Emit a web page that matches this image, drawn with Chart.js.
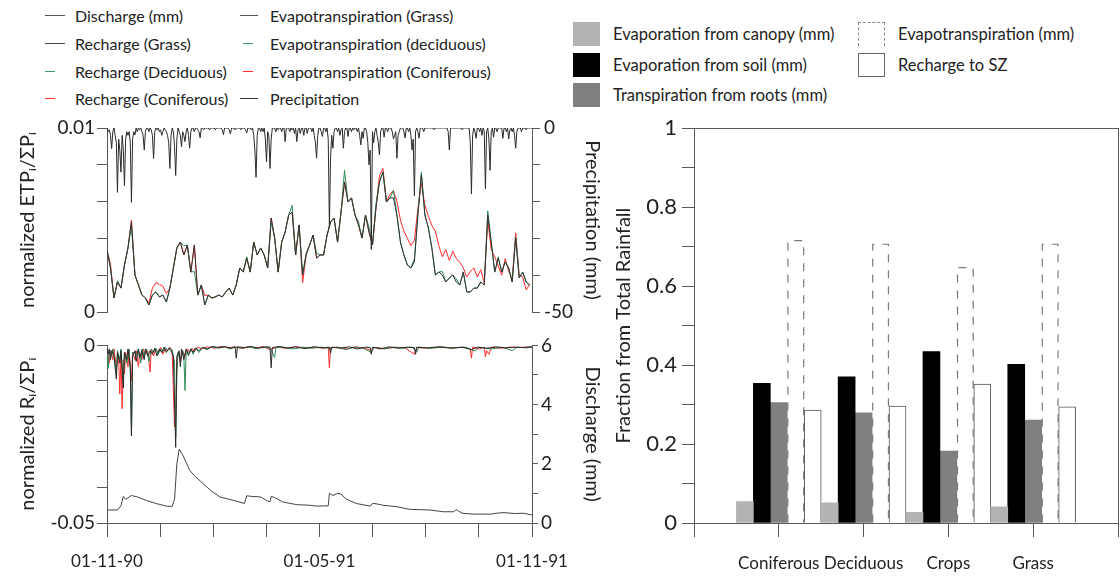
<!DOCTYPE html>
<html><head><meta charset="utf-8">
<script src="https://cdn.jsdelivr.net/npm/chart.js@4.4.1/dist/chart.umd.min.js"></script>
<style>
html,body{margin:0;padding:0;background:#fff;width:1120px;height:578px;overflow:hidden;font-family:Lato,"Noto Sans",sans-serif;color:#222;}
canvas{position:absolute;}
.lg{position:absolute;height:22px;display:flex;align-items:center;white-space:nowrap;}
.ln{display:inline-block;height:1px;}
.bx{position:absolute;width:27px;height:24px;box-sizing:border-box;}
</style></head><body>

<!-- left legend -->
<div class="lg" style="left:45px;top:4px;font-size:16px"><span class="ln" style="width:20px;background:#555;margin-right:10px"></span>Discharge (mm)</div>
<div class="lg" style="left:45px;top:32px;font-size:16px"><span class="ln" style="width:20px;background:#444;margin-right:10px"></span>Recharge (Grass)</div>
<div class="lg" style="left:45px;top:60px;font-size:16px"><span class="ln" style="width:10px;background:#3a9a6a;margin-right:20px"></span>Recharge (Deciduous)</div>
<div class="lg" style="left:45px;top:87px;font-size:16px"><span class="ln" style="width:10px;background:#ff3030;margin-right:20px"></span>Recharge (Coniferous)</div>
<div class="lg" style="left:240px;top:4px;font-size:16px"><span class="ln" style="width:18px;background:#555;margin-right:12px"></span>Evapotranspiration (Grass)</div>
<div class="lg" style="left:243px;top:32px;font-size:16px"><span class="ln" style="width:10px;background:#3a9a6a;margin-right:17px"></span>Evapotranspiration (deciduous)</div>
<div class="lg" style="left:243px;top:60px;font-size:16px"><span class="ln" style="width:10px;background:#ff3030;margin-right:17px"></span>Evapotranspiration (Coniferous)</div>
<div class="lg" style="left:240px;top:87px;font-size:16px"><span class="ln" style="width:18px;background:#333;margin-right:12px"></span>Precipitation</div>

<!-- right legend -->
<div class="bx" style="left:573px;top:22px;background:#b3b3b3"></div>
<div class="lg" style="left:613px;top:23px;font-size:16.5px">Evaporation from canopy (mm)</div>
<div class="bx" style="left:573px;top:53px;background:#000"></div>
<div class="lg" style="left:613px;top:54px;font-size:16.5px">Evaporation from soil (mm)</div>
<div class="bx" style="left:573px;top:83px;background:#808080"></div>
<div class="lg" style="left:613px;top:84px;font-size:16.5px">Transpiration from roots (mm)</div>
<div class="bx" style="left:858px;top:22px;border:1px dashed #888;border-bottom:none"></div>
<div class="lg" style="left:898px;top:23px;font-size:16.5px">Evapotranspiration (mm)</div>
<div class="bx" style="left:858px;top:53px;border:1px solid #666;background:#fff"></div>
<div class="lg" style="left:898px;top:54px;font-size:16.5px">Recharge to SZ</div>

<canvas id="cTop" width="610" height="230" style="left:0;top:100px"></canvas>
<canvas id="cBot" width="610" height="253" style="left:0;top:331px"></canvas>
<canvas id="cBar" width="522" height="468" style="left:612px;top:110px"></canvas>

<script>
// ---------------- DATA ----------------
const dateLabels = ['01-11-90', '01-05-91', '01-11-91'];
const etStep = 3; // days between ET samples

// daily precipitation (mm, plotted downward), days 0..365
const precipitation = [
0,-1,-0.5,-2,-5.6,-1,0,-2,-4,-17.5,
-3,-6,-12,-2,-6,-15.7,-3,-1,-2,-1,
-4,-20.2,-3,-1,-1.9,0,-1,0,-0.5,0,
-1,-2,-6,-1,0,0,-1,0,-0.5,-2,
-8.3,-1,0,-0.5,0,-1,-0.5,-2,-1,0,
-0.5,-1,-2,-4,-11,-2,0,-1,-5,-12.9,
-3,0,-1,-2,-5.1,-1,-2,-3.7,-1,0,
-2,-5.5,-1,0,0,-1,0,0,-0.5,-1,
-2.7,0,0,-0.5,0,0,0,0,-0.5,0,
0,0,0,-0.5,0,0,0,0,0,-0.5,
-1.8,0,0,0,0,-0.5,-1.6,0,0,0,
-0.5,0,0,0,0,-0.5,0,0,0,-0.5,
-1.3,0,0,0,-0.5,0,-2,-6,-13.4,-2,
0,0,-1,0,-1,0,-3,-9.2,-1,-2,
-11,-3,0,0,0,-1,0,-0.5,0,0,
-1,0,0,-3.7,0,0,0,-1,0,-0.5,
0,-1.5,0,-3.7,-0.5,0,-1.5,0,0,-2,
0,0,-1.5,0,0,0,-1,0,-2,-4,
-8.2,-2,0,0,-1,-2.3,0,0,-1,0,
-3,-27,-8,-2,-5.5,-1,0,0,-1,0,
-2,-0.5,0,-5.5,-1,0,0,-2.3,0,0,
-1,0,-0.5,0,0,-1,0,-2,-4.6,-1,
-2.8,0,0,-1,-4,-10,-6,-33,-1,-4,
-1,0,-2,-4,-7.3,-1,0,0,-2.5,0,
0,-1,0,0,0,-1,-3,-2,-1,-8.2,
-2,-1,0,0,0,-1,-2.7,0,0,-1,
0,-2,-6,-3,-18.4,-1,0,-1,-2.8,0,
0,0,-1,0,0,0,0,0,0,0,
0,-0.5,0,0,0,0,0,0,0,0,
0,0,0,-1,-6,0,0,0,0,0,
0,0,0,0,0,-0.5,0,0,0,0,
0,0,-4,-17.9,-2,0,-1,-2.8,0,0,
-1,0,-2,0,-1,-16.5,-1,0,-3,-11.5,
-1,0,-2.5,0,0,-1,0,0,0,0,
-2.8,0,0,-1,0,-3,-0.5,0,-1,0,
-2,-5.5,-1,0,0,0,-1,0,0,0,
-0.5,0,0,0,0,0
];

// normalized evapotranspiration, one value every 3 days
const etGrass = [
.00337,.00239,.00076,.00163,.0013,.00255,.00348,.00489,.00201,.00147,
.00092,.00076,.00038,.00092,.00109,.00082,.00092,.00054,.0013,.00239,
.00348,.0038,.0031,.00364,.00217,.00364,.00092,.00147,.00038,.00092,
.00076,.00082,.00092,.00082,.00109,.0013,.00092,.00147,.00239,.00217,
.00293,.00217,.0038,.0031,.00348,.0031,.00239,.00511,.00402,.00217,
.0038,.00435,.00527,.00543,.0031,.00473,.00201,.0031,.00364,.00418,
.00293,.0031,.0031,.00418,.00489,.00511,.0038,
.00543,.00707,.00598,.0062,.00527,.00473,.00402,.00527,.00435,.00364,
.00565,.00707,.00761,.00598,.0062,.0062,.00527,.0038,.0031,.00255,
.00239,.00272,.00527,.00745,.00527,.00457,.00348,.00201,.00217,.00201,
.00163,.00185,.00201,.00163,.00147,.00217,.00109,.00109,.0013,.0013,
.00163,.00147,.00527,.0038,.00217,.00293,.00217,.00272,.00239,.00163,
.00402,.00185,.00217,.00163,.00147
];
const etDeciduous = [
.00337,.00239,.00076,.0017,.0013,.00255,.00348,.0047,.00201,.00147,
.00092,.00076,.00038,.00092,.00109,.00082,.00092,.00054,.0013,.00239,
.00348,.0038,.0036,.00364,.00217,.0022,.00092,.00147,.00038,.00092,
.00076,.00082,.00092,.00082,.00109,.0013,.00092,.00147,.00239,.00217,
.003,.00217,.0038,.0031,.00348,.0031,.00239,.0049,.00402,.00217,
.0038,.00435,.00527,.0058,.0031,.00473,.00201,.0032,.00364,.00418,
.0032,.0031,.0031,.00418,.00489,.00511,.0038,
.00543,.0077,.00598,.0062,.00527,.0049,.00402,.00527,.0046,.00364,
.0059,.00707,.00761,.00598,.0062,.0066,.00527,.0038,.0031,.00255,
.00239,.0029,.00527,.0076,.00527,.00457,.00348,.00201,.00217,.0022,
.00163,.00185,.00201,.0018,.00147,.00217,.00109,.00109,.0013,.0013,
.00163,.00147,.0055,.0038,.00217,.003,.00217,.00272,.00239,.00163,
.0041,.00185,.00217,.00163,.00147
];
const etConiferous = [
.00337,.0026,.00076,.00163,.0013,.00255,.00348,.005,.00201,.00147,
.00092,.00076,.0005,.0013,.0016,.0015,.0014,.001,.0013,.00239,
.00348,.0038,.0031,.00364,.00217,.00364,.00092,.00147,.0009,.00092,
.00076,.00082,.00092,.00082,.00109,.0013,.00092,.00147,.00239,.00217,
.00293,.00217,.0038,.0031,.00348,.0031,.00239,.00511,.00402,.00217,
.0038,.00435,.00527,.00543,.0031,.00473,.0016,.0031,.00364,.00418,
.00293,.0031,.0031,.00418,.00489,.00511,.0038,
.00543,.00707,.00598,.0062,.00527,.00473,.00402,.00527,.00435,.00364,
.00565,.0074,.0078,.00598,.0064,.0066,.006,.005,.0044,.004,
.0036,.0039,.0056,.007,.0058,.0052,.0047,.0044,.0036,.003,
.0034,.0028,.0033,.0029,.0027,.0024,.0019,.0022,.0024,.0019,
.0023,.0016,.005,.0034,.003,.0025,.002,.0029,.0022,.0018,
.0043,.002,.0019,.0012,.0015
];

// normalized recharge [day, value]
const rechargeGrass = [[0,-.0008],[1,-.0025],[2,-.001],[3,-.004],[4,-.0015],[6,-.003],[8,-.0095],[9,-.002],[11,-.005],[12,-.0015],[14,-.012],[15,-.002],[17,-.004],[18,-.001],[20,-.006],[21,-.0255],[22,-.003],[24,-.0015],[25,-.0045],[27,-.001],[28,-.0035],[30,-.0015],[32,-.004],[33,-.001],[35,-.003],[37,-.0015],[39,-.0025],[41,-.0008],[43,-.003],[45,-.001],[47,-.002],[49,-.0005],[51,-.002],[53,-.0008],[55,-.0015],[57,-.003],[59,-.0287],[60,-.003],[62,-.0015],[63,-.006],[64,-.001],[66,-.004],[68,-.001],[70,-.0025],[72,-.001],[74,-.002],[76,-.0007],[79,-.0015],[82,-.0005],[86,-.001],[90,-.0003],[96,-.0006],[101,-.0003],[106,-.0008],[110,-.0004],[111,-.0036],[112,-.0004],[118,-.0006],[124,-.0003],[130,-.0008],[136,-.0004],[140,-.0005],[141,-.0063],[142,-.0006],[148,-.0003],[155,-.0008],[162,-.0004],[170,-.0009],[178,-.0004],[186,-.0007],[191,-.0005],[192,-.0022],[193,-.0005],[200,-.0008],[208,-.0004],[215,-.001],[222,-.0005],[226,-.0006],[227,-.0025],[228,-.0005],[235,-.001],[242,-.0004],[250,-.0008],[258,-.0005],[264,-.0006],[265,-.0025],[266,-.0005],[275,-.0007],[285,-.0004],[295,-.0008],[305,-.0005],[313,-.0012],[318,-.0005],[326,-.0008],[334,-.0004],[342,-.0007],[350,-.0005],[358,-.0006],[365,-.0004]];
const rechargeDeciduous = [[0,-.0015],[1,-.0065],[2,-.001],[4,-.003],[5,-.001],[7,-.005],[8,-.008],[9,-.0015],[11,-.004],[12,-.001],[14,-.01],[15,-.002],[17,-.005],[19,-.001],[20,-.007],[21,-.025],[22,-.002],[24,-.002],[25,-.003],[27,-.001],[29,-.005],[30,-.001],[32,-.003],[34,-.001],[36,-.0045],[38,-.001],[40,-.002],[42,-.0008],[44,-.0025],[46,-.001],[48,-.0018],[50,-.0006],[52,-.0015],[54,-.0008],[56,-.0012],[58,-.005],[59,-.026],[60,-.008],[61,-.002],[63,-.004],[65,-.0015],[66,-.003],[67,-.0127],[68,-.0015],[70,-.003],[72,-.001],[74,-.0025],[76,-.0008],[79,-.002],[82,-.0006],[86,-.0012],[90,-.0004],[96,-.0008],[101,-.0004],[106,-.001],[110,-.0005],[116,-.0008],[122,-.0004],[128,-.0009],[134,-.0005],[140,-.0007],[144,-.0034],[145,-.0006],[152,-.0005],[160,-.001],[168,-.0005],[176,-.0008],[184,-.0005],[191,-.0008],[198,-.0005],[205,-.0012],[212,-.0005],[220,-.0008],[227,-.002],[229,-.0005],[238,-.001],[246,-.0005],[254,-.0008],[262,-.0005],[266,-.0018],[268,-.0005],[278,-.0008],[288,-.0005],[298,-.0007],[308,-.0005],[316,-.0016],[320,-.0005],[330,-.001],[340,-.0005],[348,-.0015],[352,-.0005],[360,-.0007],[365,-.0005]];
const rechargeConiferous = [[0,-.001],[1,-.003],[2,-.005],[3,-.0015],[5,-.004],[6,-.001],[8,-.006],[10,-.003],[11,-.0137],[12,-.003],[13,-.0178],[14,-.004],[15,-.008],[16,-.002],[18,-.006],[19,-.0015],[21,-.01],[22,-.002],[24,-.004],[25,-.0015],[27,-.006],[28,-.002],[30,-.004],[31,-.001],[33,-.0025],[35,-.0015],[37,-.0075],[38,-.001],[40,-.003],[42,-.001],[44,-.002],[46,-.0005],[48,-.0025],[50,-.001],[52,-.0015],[54,-.0005],[56,-.002],[58,-.023],[59,-.02],[60,-.004],[62,-.002],[63,-.005],[65,-.0015],[67,-.003],[69,-.001],[71,-.002],[73,-.0008],[75,-.0018],[78,-.0005],[82,-.001],[86,-.0004],[92,-.0008],[98,-.0003],[104,-.0007],[110,-.0004],[116,-.0009],[122,-.0004],[128,-.0007],[134,-.0003],[140,-.0012],[146,-.0005],[154,-.0008],[162,-.0004],[170,-.0007],[178,-.0005],[186,-.0008],[190,-.0005],[191,-.0063],[192,-.0006],[198,-.0005],[206,-.001],[214,-.0004],[222,-.0008],[227,-.0015],[230,-.0006],[240,-.0009],[248,-.0005],[256,-.0007],[264,-.0025],[266,-.0006],[276,-.0008],[286,-.0004],[296,-.0007],[306,-.0005],[312,-.001],[313,-.0036],[314,-.0005],[320,-.001],[324,-.0005],[325,-.0032],[326,-.0015],[328,-.0025],[330,-.0005],[338,-.0008],[346,-.0005],[354,-.0006],[365,-.0004]];

// discharge (mm) [day, value]
const discharge = [[0,0.44],[9,0.44],[12,0.58],[14,0.9],[16,0.8],[18,0.85],[21,0.93],[26,0.88],[34,0.76],[42,0.66],[51,0.57],[56,0.56],[58,0.8],[60,2.0],[62,2.49],[65,2.3],[68,2.05],[71,1.78],[75,1.6],[80,1.42],[89,1.1],[97,0.88],[109,0.76],[118,0.66],[120,0.92],[124,0.9],[132,0.88],[138,0.74],[140,0.72],[141,0.9],[144,0.86],[151,0.71],[163,0.62],[174,0.6],[180,0.57],[190,0.58],[191,1.0],[194,0.93],[198,1.0],[201,0.98],[205,0.82],[214,0.66],[226,0.57],[228,0.66],[231,0.65],[237,0.6],[249,0.55],[260,0.46],[277,0.44],[289,0.38],[298,0.38],[300,0.46],[302,0.4],[305,0.33],[315,0.3],[330,0.3],[334,0.33],[341,0.35],[350,0.32],[358,0.33],[365,0.27]];

// bar chart (fraction of total rainfall)
const categories = ['Coniferous', 'Deciduous', 'Crops', 'Grass'];
const canopyEvaporation = [0.054, 0.051, 0.027, 0.041];
const soilEvaporation = [0.354, 0.370, 0.434, 0.402];
const rootTranspiration = [0.305, 0.279, 0.182, 0.261];
const evapotranspiration = [0.715, 0.706, 0.647, 0.706];
const rechargeToSZ = [0.286, 0.296, 0.352, 0.294];

// ---------------- CHARTS ----------------
Chart.defaults.font.family = 'Lato, "Noto Sans", sans-serif';
Chart.defaults.color = '#222';
const AX = '#5a5a5a';
const GREEN = '#2e8b57', RED = '#ff2a2a';
const baseOpts = () => ({responsive: false, animation: false, plugins: {legend: {display: false}, tooltip: {enabled: false}}});

// ---- bar chart ----
const pad = a => [null].concat(a, [null]);
const barDecor = {
  id: 'barDecor',
  afterDatasetsDraw(chart) {
    const ctx = chart.ctx;
    const a = chart.chartArea;
    const meta = chart.getDatasetMeta(3);
    ctx.save();
    ctx.strokeStyle = '#7a7a7a';
    ctx.lineWidth = 1.2;
    ctx.setLineDash([8, 8]);
    meta.data.forEach((el, i) => {
      if (chart.data.datasets[3].data[i] == null) return;
      const p = el.getProps(['x', 'y', 'base', 'width'], true);
      const l = p.x - p.width / 2 + 0.6, r = p.x + p.width / 2 - 0.6;
      ctx.beginPath();
      ctx.moveTo(l, p.base); ctx.lineTo(l, p.y); ctx.lineTo(r, p.y); ctx.lineTo(r, p.base);
      ctx.stroke();
    });
    ctx.restore();
    const L = Math.round(a.left), R = Math.round(a.right), T = Math.round(a.top), B = Math.round(a.bottom);
    ctx.save();
    ctx.fillStyle = AX;
    ctx.fillRect(L, T, 1, B - T + 1);
    ctx.fillRect(L, B, R - L + 1, 1);
    ctx.fillRect(L, T, R - L + 1, 1);
    ctx.fillRect(R, T, 1, B - T + 1);
    ctx.restore();
  }
};
new Chart(document.getElementById('cBar'), {
  type: 'bar',
  data: {
    labels: [''].concat(categories, ['']),
    datasets: [
      {label: 'Evaporation from canopy (mm)', data: pad(canopyEvaporation), backgroundColor: '#b3b3b3', borderWidth: 0},
      {label: 'Evaporation from soil (mm)', data: pad(soilEvaporation), backgroundColor: '#000', borderWidth: 0},
      {label: 'Transpiration from roots (mm)', data: pad(rootTranspiration), backgroundColor: '#808080', borderWidth: 0},
      {label: 'Evapotranspiration (mm)', data: pad(evapotranspiration), backgroundColor: 'rgba(0,0,0,0)', borderWidth: 0},
      {label: 'Recharge to SZ', data: pad(rechargeToSZ), backgroundColor: '#fff', borderColor: '#555', borderWidth: 1}
    ]
  },
  options: Object.assign(baseOpts(), {
    datasets: {bar: {categoryPercentage: 1, barPercentage: 1}},
    layout: {padding: {top: 18, right: 0, left: 0, bottom: 0}},
    scales: {
      x: {type: 'category', offset: false,
        grid: {offset: false, drawOnChartArea: false, tickLength: 14, color: AX},
        border: {color: AX},
        ticks: {autoSkip: false, maxRotation: 0, font: {size: 17}, padding: 16},
        afterFit: s => { s.height = 55; }},
      y: {min: 0, max: 1, ticks: {stepSize: 0.1, font: {size: 22}, padding: 5,
          callback: (v, i) => i % 2 === 0 ? String(+Number(v).toFixed(1)) : ''},
        grid: {drawOnChartArea: false, tickLength: 12, color: AX}, border: {color: AX},
        title: {display: true, text: 'Fraction from Total Rainfall', font: {size: 20}, padding: {top: 0}},
        afterFit: s => { s.width = 82; }}
    }
  }),
  plugins: [barDecor]
});

// ---- time series ----
const fmt = v => String(+Number(v).toFixed(4));
const endLabels = (v, i, t) => (i === 0 || i === t.length - 1) ? fmt(v) : '';
const lineDs = (label, pts, axis, color, w) => ({label, data: pts, yAxisID: axis, borderColor: color, borderWidth: w || 1, pointRadius: 0, tension: 0, fill: false});
const daily = arr => arr.map((v, i) => ({x: i, y: v}));
const stepped = arr => arr.map((v, i) => ({x: i * etStep, y: v}));
const pairs = arr => arr.map(p => ({x: p[0], y: p[1]}));
const xTicks = s => { s.ticks = Array.from({length: 9}, (_, i) => ({value: i * 365 / 8})); };
const titleFont = {size: 20};

new Chart(document.getElementById('cTop'), {
  type: 'line',
  data: {datasets: [
    lineDs('Precipitation', daily(precipitation), 'yP', '#2a2a2a'),
    lineDs('Evapotranspiration (Grass)', stepped(etGrass), 'yE', '#333'),
    lineDs('Evapotranspiration (deciduous)', stepped(etDeciduous), 'yE', GREEN),
    lineDs('Evapotranspiration (Coniferous)', stepped(etConiferous), 'yE', RED)
  ]},
  options: Object.assign(baseOpts(), {
    layout: {padding: {top: 28, bottom: 18, left: 0, right: 0}},
    scales: {
      x: {type: 'linear', min: 0, max: 365, display: false, afterBuildTicks: xTicks},
      yE: {position: 'left', min: 0, max: 0.01, ticks: {stepSize: 0.002, callback: endLabels, font: {size: 19}, padding: 2},
        grid: {drawOnChartArea: false, tickLength: 10, color: AX}, border: {color: AX},
        title: {display: true, text: 'normalized ETPᵢ/ΣPᵢ', font: titleFont, padding: {top: 16}},
        afterFit: s => { s.width = 107; }},
      yP: {position: 'right', min: -50, max: 0, ticks: {stepSize: 10, callback: endLabels, font: {size: 19}, padding: 4},
        grid: {drawOnChartArea: false, tickLength: 8, color: AX}, border: {color: AX},
        title: {display: true, text: 'Precipitation (mm)', font: titleFont, padding: {top: 6}},
        afterFit: s => { s.width = 78; }}
    }
  })
});

new Chart(document.getElementById('cBot'), {
  type: 'line',
  data: {datasets: [
    lineDs('Discharge (mm)', pairs(discharge), 'yQ', '#444'),
    lineDs('Recharge (Grass)', pairs(rechargeGrass), 'yR', '#2a2a2a'),
    lineDs('Recharge (Deciduous)', pairs(rechargeDeciduous), 'yR', GREEN),
    lineDs('Recharge (Coniferous)', pairs(rechargeConiferous), 'yR', RED)
  ]},
  options: Object.assign(baseOpts(), {
    layout: {padding: {top: 9, bottom: 0, left: 0, right: 0}},
    scales: {
      x: {type: 'linear', min: 0, max: 365, afterBuildTicks: xTicks,
        ticks: {autoSkip: false, maxRotation: 0, font: {size: 17}, padding: 14,
          callback: (v, i) => i % 4 === 0 ? dateLabels[i / 4] : ''},
        grid: {drawOnChartArea: false, tickLength: 14, color: AX}, border: {color: AX},
        afterFit: s => { s.height = 61; }},
      yR: {position: 'left', min: -0.05, max: 0, ticks: {stepSize: 0.01, callback: endLabels, font: {size: 19}, padding: 2},
        grid: {drawOnChartArea: false, tickLength: 10, color: AX}, border: {color: AX},
        title: {display: true, text: 'normalized Rᵢ/ΣPᵢ', font: titleFont, padding: {top: 16}},
        afterFit: s => { s.width = 107; }},
      yQ: {position: 'right', min: 0, max: 6, ticks: {stepSize: 1, callback: v => v % 2 === 0 ? String(v) : '', font: {size: 19}, padding: 3},
        grid: {drawOnChartArea: false, tickLength: 6, color: AX}, border: {color: AX},
        title: {display: true, text: 'Discharge (mm)', font: titleFont, padding: {top: 6}},
        afterFit: s => { s.width = 78; }}
    }
  })
});
</script>
</body></html>
